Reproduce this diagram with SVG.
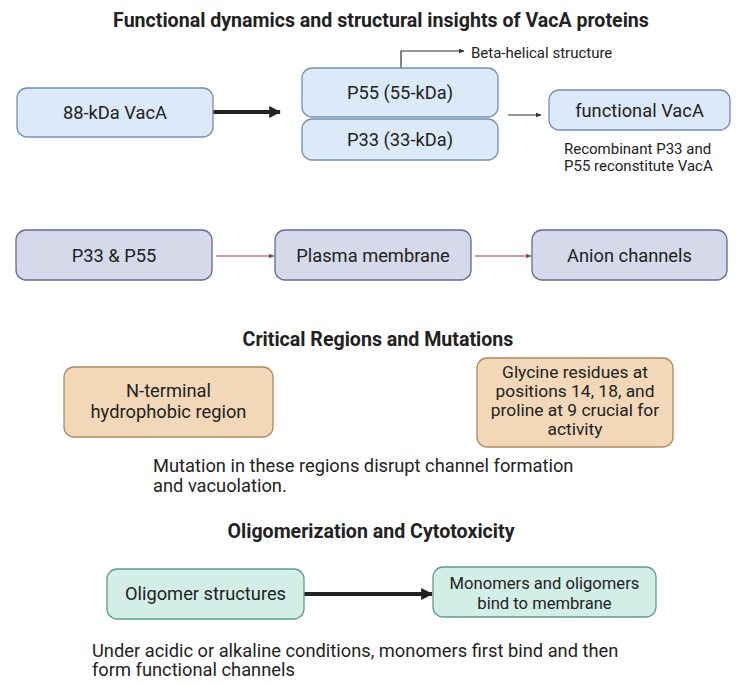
<svg xmlns="http://www.w3.org/2000/svg" width="738" height="685" viewBox="0 0 738 685">
<defs>
<style>
text{font-family:Roboto,"Liberation Sans",sans-serif;fill:#222;}
.title{font-size:19.6px;font-weight:bold;text-anchor:middle;}
.lbl{font-size:18.3px;text-anchor:middle;}
.lbl2{font-size:17.4px;text-anchor:middle;}
.lbl3{font-size:16.6px;text-anchor:middle;}
.note{font-size:18.3px;}
.small{font-size:15px;}
.blue{fill:#dce9f8;stroke:#7390b3;stroke-width:1.3;}
.lav{fill:#d5d9ea;stroke:#5f6c94;stroke-width:1.3;}
.tan{fill:#f2d8b8;stroke:#a88a60;stroke-width:1.3;}
.teal{fill:#d3ede7;stroke:#5f9c8c;stroke-width:1.3;}
.thick{stroke:#222;stroke-width:4;fill:none;}
.thin{stroke:#333;stroke-width:1.2;fill:none;}
.red{stroke:#a33a4a;stroke-width:1.2;fill:none;}
</style>
<marker id="ahThick" viewBox="0 0 10 10" refX="9" refY="5" markerWidth="3" markerHeight="3" orient="auto" markerUnits="strokeWidth"><path d="M0,0 L10,5 L0,10 z" fill="#222"/></marker>
<marker id="ahThin" viewBox="0 0 10 10" refX="9" refY="5" markerWidth="5" markerHeight="5" orient="auto" markerUnits="strokeWidth"><path d="M0,1 L10,5 L0,9 z" fill="#333"/></marker>
<marker id="ahRed" viewBox="0 0 10 10" refX="9" refY="5" markerWidth="5" markerHeight="5" orient="auto" markerUnits="strokeWidth"><path d="M0,1 L10,5 L0,9 z" fill="#a33a4a"/></marker>
</defs>
<rect width="738" height="685" fill="#fff"/>

<text class="title" x="381" y="27">Functional dynamics and structural insights of VacA proteins</text>

<g id="connectors">
<line class="thick" x1="213" y1="112" x2="280" y2="112" marker-end="url(#ahThick)"/>
<path class="thin" d="M401 68 V51 H464" marker-end="url(#ahThin)"/>
<line class="thin" x1="508" y1="115" x2="541" y2="115" marker-end="url(#ahThin)"/>
<line class="red" x1="216" y1="256" x2="274" y2="256" marker-end="url(#ahRed)"/>
<line class="red" x1="475" y1="256" x2="531" y2="256" marker-end="url(#ahRed)"/>
<line class="thick" x1="304" y1="594" x2="432" y2="594" marker-end="url(#ahThick)"/>
</g>

<g id="n88">
<rect class="blue" x="17" y="88" width="196" height="49" rx="10"/>
<text class="lbl" x="115" y="119">88-kDa VacA</text>
</g>
<g id="p55">
<rect class="blue" x="302" y="68" width="196" height="49" rx="10"/>
<text class="lbl" x="400" y="99">P55 (55-kDa)</text>
</g>
<g id="p33">
<rect class="blue" x="302" y="119" width="196" height="41" rx="10"/>
<text class="lbl" x="400" y="146">P33 (33-kDa)</text>
</g>
<text class="small" x="471" y="58" font-size="14.6">Beta-helical structure</text>
<g id="fvaca">
<rect class="blue" x="549" y="90" width="181" height="40" rx="10"/>
<text class="lbl" x="639.5" y="117">functional VacA</text>
</g>
<text class="small" x="564" y="154">Recombinant P33 and</text>
<text class="small" x="564" y="171">P55 reconstitute VacA</text>

<g id="p33p55">
<rect class="lav" x="16" y="230" width="196" height="50" rx="10"/>
<text class="lbl" x="114" y="262">P33 &amp; P55</text>
</g>
<g id="plasma">
<rect class="lav" x="275" y="230" width="196" height="50" rx="10"/>
<text class="lbl" x="373" y="262">Plasma membrane</text>
</g>
<g id="anion">
<rect class="lav" x="532" y="230" width="195" height="50" rx="10"/>
<text class="lbl" x="629.5" y="262">Anion channels</text>
</g>

<text class="title" x="378" y="346">Critical Regions and Mutations</text>

<g id="nterm">
<rect class="tan" x="64" y="367" width="209" height="70" rx="10"/>
<text class="lbl" x="168.5" y="397">N-terminal</text>
<text class="lbl" x="168.5" y="418">hydrophobic region</text>
</g>
<g id="glycine">
<rect class="tan" x="477" y="358" width="196" height="89" rx="10"/>
<text class="lbl2" x="575" y="378">Glycine residues at</text>
<text class="lbl2" x="575" y="397">positions 14, 18, and</text>
<text class="lbl2" x="575" y="416">proline at 9 crucial for</text>
<text class="lbl2" x="575" y="435">activity</text>
</g>
<text class="note" x="153" y="472">Mutation in these regions disrupt channel formation</text>
<text class="note" x="153" y="492">and vacuolation.</text>

<text class="title" x="371" y="538">Oligomerization and Cytotoxicity</text>

<g id="oligomer">
<rect class="teal" x="107" y="569" width="197" height="50" rx="10"/>
<text class="lbl" x="205.5" y="600">Oligomer structures</text>
</g>
<g id="monomers">
<rect class="teal" x="433" y="567" width="223" height="50" rx="10"/>
<text class="lbl3" x="544.5" y="589">Monomers and oligomers</text>
<text class="lbl3" x="544.5" y="609">bind to membrane</text>
</g>
<text class="note" x="92" y="657">Under acidic or alkaline conditions, monomers first bind and then</text>
<text class="note" x="92" y="676">form functional channels</text>
</svg>
